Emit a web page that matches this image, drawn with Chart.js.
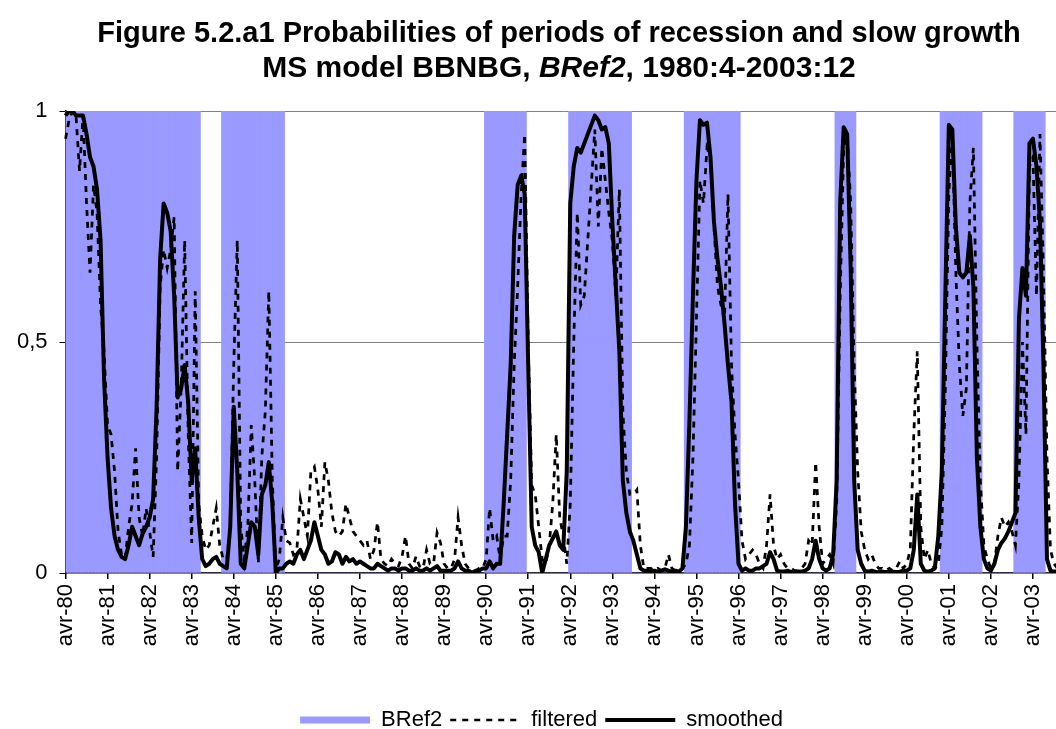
<!DOCTYPE html>
<html><head><meta charset="utf-8">
<script src="https://cdn.jsdelivr.net/npm/chart.js@4/dist/chart.umd.min.js"></script>
<style>
html,body{margin:0;padding:0;overflow:hidden;background:#fff;width:1056px;height:729px;}
#wrap{position:relative;width:1056px;height:729px;overflow:hidden;background:#fff;}
#title{position:absolute;left:0;top:17px;width:1118px;text-align:center;font-family:'Liberation Sans',Arial,sans-serif;font-weight:bold;line-height:30px;color:#000;z-index:2;}
#t1{font-size:29px;}
#t2{font-size:30px;}
canvas{position:absolute;left:0;top:0;}
</style></head>
<body>
<div id="wrap">
<div id="title"><span id="t1">Figure 5.2.a1 Probabilities of periods of recession and slow growth</span><br><span id="t2">MS model BBNBG, <i>BRef2</i>, 1980:4-2003:12</span></div>
<canvas id="c" width="1061" height="741"></canvas>
</div>
<script>
// Monthly data, 1980:4 - 2003:12 (one row per year, April to March)
const startYear = 1980;
const monthNames = ['avr','mai','juin','juil','août','sept','oct','nov','déc','janv','févr','mars'];

const bref2 = [
 1,1,1,1,1,1,1,1,1,1,1,1,
 1,1,1,1,1,1,1,1,1,1,1,1,
 1,1,1,1,1,1,1,1,1,1,1,1,
 1,1,1,0,0,0,0,0,0,1,1,1,
 1,1,1,1,1,1,1,1,1,1,1,1,
 1,1,1,0,0,0,0,0,0,0,0,0,
 0,0,0,0,0,0,0,0,0,0,0,0,
 0,0,0,0,0,0,0,0,0,0,0,0,
 0,0,0,0,0,0,0,0,0,0,0,0,
 0,0,0,0,0,0,0,0,0,0,0,0,
 1,1,1,1,1,1,1,1,1,1,1,1,
 0,0,0,0,0,0,0,0,0,0,0,0,
 1,1,1,1,1,1,1,1,1,1,1,1,
 1,1,1,1,1,1,0,0,0,0,0,0,
 0,0,0,0,0,0,0,0,0,1,1,1,
 1,1,1,1,1,1,1,1,1,1,1,1,
 1,0,0,0,0,0,0,0,0,0,0,0,
 0,0,0,0,0,0,0,0,0,0,0,0,
 0,0,0,0,1,1,1,1,1,1,0,0,
 0,0,0,0,0,0,0,0,0,0,0,0,
 0,0,0,0,0,0,0,0,0,0,1,1,
 1,1,1,1,1,1,1,1,1,1,0,0,
 0,0,0,0,0,0,0,1,1,1,1,1,
 1,1,1,1,0,0,0,0,0
];

const filtered = [
 .94,.98,1,.99,.87,.99,.80,.65,.84,.78,.58,.48,
 .32,.30,.22,.09,.04,.03,.10,.15,.27,.12,.08,.14,
 .09,.035,.25,.62,.70,.66,.70,.77,.22,.40,.72,.30,
 .065,.61,.15,.08,.05,.06,.10,.14,.06,.03,.03,.10,
 .45,.72,.10,.03,.10,.32,.20,.02,.25,.35,.61,.20,
 .01,.03,.12,.07,.065,.04,.05,.16,.12,.08,.22,.23,
 .18,.10,.24,.20,.13,.09,.08,.09,.15,.12,.09,.08,
 .07,.06,.07,.03,.05,.11,.03,.02,.015,.03,.02,.015,
 .035,.08,.02,.01,.036,.015,.01,.05,.02,.02,.087,.065,
 .02,.01,.01,.03,.12,.06,.02,.01,.005,.005,.01,.01,
 .03,.14,.07,.08,.03,.08,.08,.20,.45,.62,.82,.95,
 .50,.19,.17,.10,.03,.02,.06,.15,.30,.12,.08,.02,
 .15,.50,.78,.58,.60,.72,.84,.96,.75,.92,.85,.78,
 .72,.60,.83,.35,.22,.17,.17,.18,.06,.01,.01,.01,
 .005,.01,.005,.01,.04,.01,.005,.005,.01,.02,.06,.25,
 .55,.85,.80,.92,.90,.75,.62,.58,.55,.82,.45,.30,
 .20,.07,.03,.04,.05,.04,.02,.01,.06,.17,.06,.03,
 .04,.02,.01,.01,.005,.005,.01,.02,.07,.06,.24,.10,
 .02,.03,.04,.02,.15,.60,.92,.95,.80,.45,.22,.09,
 .05,.03,.04,.02,.01,.01,.005,.01,.005,.01,.025,.01,
 .02,.05,.30,.48,.10,.03,.05,.02,.01,.02,.10,.40,
 .82,.95,.65,.45,.34,.40,.80,.92,.50,.20,.06,.03,
 .01,.02,.08,.12,.10,.11,.09,.06,.20,.50,.30,.88,
 .90,.60,.95,.65,.25,.05,.02,.01,.01
];

const smoothed = [
 .99,1,1,.99,.99,.99,.95,.90,.88,.83,.72,.42,
 .25,.14,.08,.05,.035,.03,.06,.10,.08,.06,.085,.10,
 .12,.16,.36,.68,.80,.78,.74,.60,.38,.40,.45,.37,
 .20,.27,.12,.03,.015,.02,.03,.035,.02,.015,.01,.10,
 .36,.22,.02,.01,.06,.11,.10,.04,.17,.19,.24,.15,
 0,.01,.01,.02,.025,.02,.04,.05,.03,.05,.07,.11,
 .08,.05,.04,.02,.025,.045,.04,.02,.035,.025,.03,.02,
 .025,.02,.015,.01,.01,.02,.015,.01,.005,.01,.01,.005,
 .01,.01,.005,.005,.01,.005,.005,.01,.005,.01,.015,.005,
 .005,.005,.005,.01,.025,.01,.005,.005,0,.005,.005,.01,
 .01,.025,.01,.02,.02,.15,.30,.45,.73,.84,.86,.82,
 .45,.10,.06,.045,0,.03,.06,.075,.09,.06,.05,.22,
 .80,.88,.92,.91,.93,.95,.97,.99,.98,.96,.965,.93,
 .76,.62,.48,.20,.13,.09,.07,.04,.01,.005,.005,.003,
 .005,.003,.005,.008,.005,.003,.005,.003,.01,.10,.33,.60,
 .85,.98,.97,.975,.90,.76,.68,.62,.54,.45,.37,.15,
 .02,.005,.01,.005,.005,.01,.01,.015,.02,.045,.03,.005,
 .003,.003,.005,.002,.002,.003,.003,.005,.01,.03,.07,.03,
 .01,.005,.01,.04,.20,.80,.965,.95,.66,.20,.05,.02,
 .005,.003,.005,.003,.002,.003,.002,.002,.003,.002,.003,.005,
 .005,.01,.05,.17,.02,.005,.003,.005,.01,.08,.22,.60,
 .97,.96,.75,.65,.64,.65,.73,.62,.25,.10,.03,.01,
 .005,.02,.05,.065,.075,.09,.11,.13,.55,.66,.60,.93,
 .94,.88,.76,.45,.03,.005,.003,.003,.003
];

const yTickLabels = {0:'0', 0.5:'0,5', 1:'1'};

const labels = smoothed.map((_, i) => {
  const yr = startYear + Math.floor((i + 3) / 12);
  return monthNames[i % 12] + '-' + String(yr % 100).padStart(2, '0');
});

const FONT = "'Liberation Sans', Arial, sans-serif";
const DASH = [6, 6];
const tickOn = (c) => (c.index % 12 === 0 ? '#000' : 'rgba(0,0,0,0)');

// shift the legend row so that it sits where the reference puts it
const legendShift = {
  id: 'legendShift',
  afterLayout(chart) {
    if (chart.legend) { chart.legend.left += 11; chart.legend.right += 11; }
  }
};

new Chart(document.getElementById('c'), {
  data: {
    labels: labels,
    datasets: [
      {type:'line', label:'smoothed', data:smoothed, borderColor:'#000', borderWidth:4,
       pointRadius:0, tension:0, order:1, borderJoinStyle:'round'},
      {type:'line', label:'filtered', data:filtered, borderColor:'#000', borderWidth:2.75,
       borderDash:DASH, pointRadius:0, tension:0, order:2},
      {type:'bar', label:'BRef2', data:bref2, backgroundColor:'#9999FF', borderWidth:0,
       barPercentage:1, categoryPercentage:1, order:3}
    ]
  },
  plugins: [legendShift],
  options: {
    responsive:false, animation:false, devicePixelRatio:1,
    layout:{padding:{left:0, right:0, top:111, bottom:0}},
    plugins:{
      title:{display:false},
      tooltip:{enabled:false},
      legend:{
        position:'bottom',
        labels:{
          usePointStyle:true, pointStyleWidth:70, boxHeight:7, padding:8,
          color:'#000', font:{size:22, family:FONT},
          generateLabels: () => [
            {text:'BRef2', fillStyle:'#9999FF', strokeStyle:'#9999FF', lineWidth:0, pointStyle:'rect', datasetIndex:2, fontColor:'#000'},
            {text:'filtered', fillStyle:'rgba(0,0,0,0)', strokeStyle:'#000', lineWidth:2.5, lineDash:DASH, pointStyle:'line', datasetIndex:1, fontColor:'#000'},
            {text:'smoothed', fillStyle:'rgba(0,0,0,0)', strokeStyle:'#000', lineWidth:4, pointStyle:'line', datasetIndex:0, fontColor:'#000'}
          ]
        }
      }
    },
    scales:{
      x:{
        offset:false,
        grid:{offset:false, drawOnChartArea:false, drawTicks:true, tickLength:6, color:tickOn, tickColor:tickOn, lineWidth:1.5},
        border:{display:true, color:'#000', width:1.5},
        ticks:{autoSkip:false, maxRotation:90, minRotation:90, padding:5, color:'#000',
               font:{size:22, family:FONT},
               callback:(v, i) => (i % 12 === 0 ? labels[i] : '')},
        afterFit:(s) => { s.height = 128; s.paddingRight = 0; s.paddingLeft = 0; }
      },
      y:{
        min:0, max:1,
        grid:{color:(c) => (c.tick && c.tick.value === 0 ? 'rgba(0,0,0,0)' : '#808080'), tickColor:'#000', tickLength:6, lineWidth:1},
        border:{display:true, color:'#000', width:1.5},
        ticks:{stepSize:0.5, padding:12, color:'#000', font:{size:22, family:FONT},
               callback:(v) => yTickLabels[v]},
        afterFit:(s) => { s.width = 65.5; }
      }
    }
  }
});
</script>
</body></html>
